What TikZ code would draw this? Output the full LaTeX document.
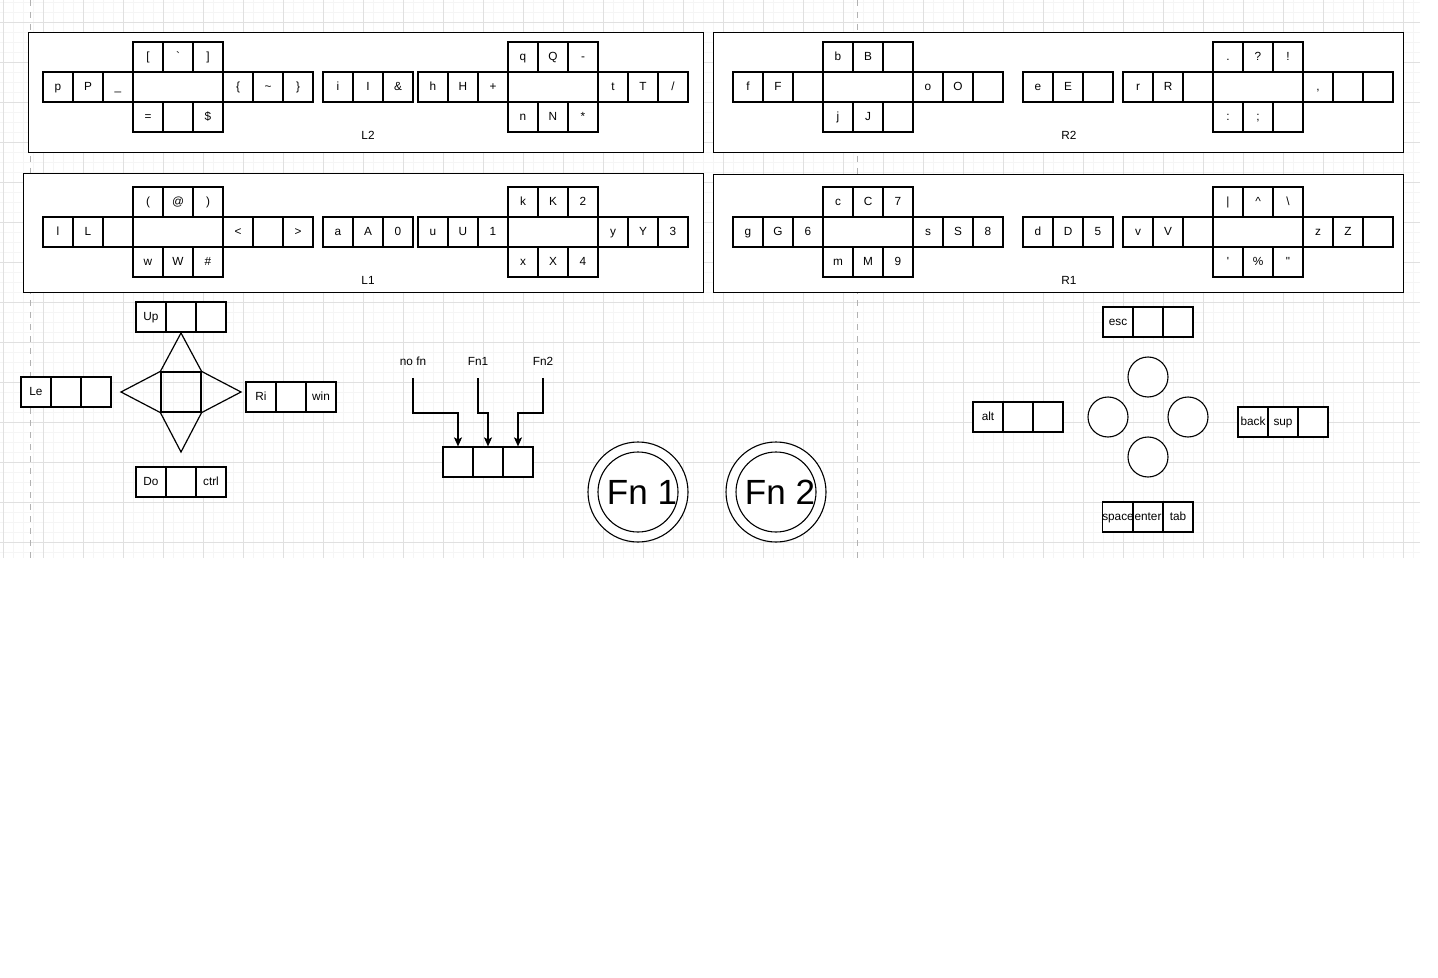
\documentclass[tikz,border=0pt]{standalone}
\usepackage{fontspec}
\newfontfamily\lab{Liberation Sans}
\usetikzlibrary{arrows.meta}
\newcommand\kdot{.}
\newcommand\kpl{(}
\newcommand\kpr{)}
\newcommand\keyrow[4]{%
  \foreach \kl [count=\ki] in {#4}{\node[cell] (#1-\ki) at ({#2+30*\ki-15},{#3}) {\kl};}}
\newcommand\crossunit[7]{%
  \keyrow{#1l}{#2}{#3}{#4}%
  \node[wide] (#1c) at ({#2+135},{#3}) {};%
  \keyrow{#1t}{#2+90}{#3-30}{#5}%
  \keyrow{#1b}{#2+90}{#3+30}{#6}%
  \keyrow{#1r}{#2+180}{#3}{#7}}
\tikzset{
  cell/.style={draw, line width=0.6pt, minimum width=15pt, minimum height=15pt,
    inner sep=0pt, fill=white, text height=4.8pt, text depth=1.4pt,
    font=\lab\fontsize{5.9}{7}\selectfont},
  wide/.style={cell, minimum width=45pt},
  panel/.style={draw, line width=0.6pt, fill=white, inner sep=0pt, anchor=north west},
  lbl/.style={font=\lab\fontsize{5.9}{7}\selectfont, inner sep=0pt, text height=4.8pt, text depth=1.4pt},
  arr/.style={line width=0.6pt, -{Stealth[length=4.5pt,width=4pt,inset=1pt]}},
  ring/.style={circle, draw, line width=0.55pt, inner sep=0pt, fill=white},
  edge/.style={line width=0.6pt},
  minorline/.style={draw=black!4, line width=0.3pt},
  majorline/.style={draw=black!12, line width=0.4pt},
  pagebreak/.style={draw=black!30, line width=0.4pt, dash pattern=on 3pt off 3pt},
}
\begin{document}
\begin{tikzpicture}[x=0.5pt,y=-0.5pt]
\useasboundingbox[fill=white] (0,0) rectangle (1438,978);
% grid
\begin{scope}
\clip (0,0) rectangle (1420,558);
\foreach \gx in {3,13,...,1413} \draw[minorline] (\gx,0) -- (\gx,558);
\foreach \gy in {2,12,...,552} \draw[minorline] (0,\gy) -- (1420,\gy);
\foreach \gx in {3,43,...,1403} \draw[majorline] (\gx,0) -- (\gx,558);
\foreach \gy in {22,62,...,542} \draw[majorline] (0,\gy) -- (1420,\gy);
\end{scope}
\draw[pagebreak] (30,0) -- (30,558);
\draw[pagebreak] (857,0) -- (857,558);

% panels
\node[panel, minimum width=337.5pt, minimum height=60pt] (pL2) at (28,32) {};
\node[panel, minimum width=345pt, minimum height=60pt] (pR2) at (713,32) {};
\node[panel, minimum width=340pt, minimum height=59.5pt] (pL1) at (23,173) {};
\node[panel, minimum width=345pt, minimum height=59pt] (pR1) at (713,174) {};
\node[lbl] (tL2) at (368,136) {L2};
\node[lbl] (tR2) at (1069,136) {R2};
\node[lbl] (tL1) at (368,281) {L1};
\node[lbl] (tR1) at (1069,281) {R1};

% L2
\crossunit{L2a}{43}{87}{p,P,\_}{[,\textasciigrave,]}{=,{},\$}{\textbraceleft,\textasciitilde,\textbraceright}
\keyrow{L2b}{323}{87}{i,I,\&}
\crossunit{L2c}{418}{87}{h,H,+}{q,Q,-}{n,N,*}{t,T,/}
% R2
\crossunit{R2a}{733}{87}{f,F,{}}{b,B,{}}{j,J,{}}{o,O,{}}
\keyrow{R2b}{1023}{87}{e,E,{}}
\crossunit{R2c}{1123}{87}{r,R,{}}{\kdot,?,!}{:,;,{}}{{,},{},{}}
% L1
\crossunit{L1a}{43}{232}{l,L,{}}{\kpl,@,\kpr}{w,W,\#}{<,{},>}
\keyrow{L1b}{323}{232}{a,A,0}
\crossunit{L1c}{418}{232}{u,U,1}{k,K,2}{x,X,4}{y,Y,3}
% R1
\crossunit{R1a}{733}{232}{g,G,6}{c,C,7}{m,M,9}{s,S,8}
\keyrow{R1b}{1023}{232}{d,D,5}
\crossunit{R1c}{1123}{232}{v,V,{}}{|,\textasciicircum,\textbackslash}{\textquotesingle,\%,\textquotedbl}{z,Z,{}}

% d-pad left
\keyrow{up}{136}{317}{Up,{},{}}
\keyrow{le}{21}{392}{Le,{},{}}
\keyrow{ri}{246}{397}{Ri,{},win}
\keyrow{do}{136}{482}{Do,{},ctrl}
\node[draw, line width=0.6pt, minimum size=20pt, inner sep=0pt] (dsq) at (181,392) {};
\coordinate (apN) at (181,333);
\coordinate (apS) at (181,452);
\coordinate (apW) at (121,392);
\coordinate (apE) at (241,392);
\draw[edge] (dsq.north west) -- (apN) -- (dsq.north east);
\draw[edge] (dsq.south west) -- (apS) -- (dsq.south east);
\draw[edge] (dsq.north west) -- (apW) -- (dsq.south west);
\draw[edge] (dsq.north east) -- (apE) -- (dsq.south east);

% fn selector
\keyrow{fs}{443}{462}{{},{},{}}
\node[lbl] (nofn) at (413,362) {no fn};
\node[lbl] (fnA) at (478,362) {Fn1};
\node[lbl] (fnB) at (543,362) {Fn2};
\coordinate (s1) at (413,378);
\coordinate (s2) at (478,378);
\coordinate (s3) at (543,378);
\coordinate (b1) at (413,413);
\coordinate (b2) at (478,413);
\coordinate (b3) at (543,413);
\draw[arr] (s1) -- (b1) -| (fs-1.north);
\draw[arr] (s2) -- (b2) -| (fs-2.north);
\draw[arr] (s3) -- (b3) -| (fs-3.north);

% Fn buttons
\node[ring, minimum size=50pt] (fn1o) at (638,492) {};
\node[ring, minimum size=40pt] (fn1i) at (638,492) {};
\node[font=\lab\fontsize{17.5}{20}\selectfont, inner sep=0pt] (fn1t) at (642,492) {Fn 1};
\node[ring, minimum size=50pt] (fn2o) at (776,492) {};
\node[ring, minimum size=40pt] (fn2i) at (776,492) {};
\node[font=\lab\fontsize{17.5}{20}\selectfont, inner sep=0pt] (fn2t) at (780,492) {Fn 2};

% right buttons
\keyrow{esc}{1103}{322}{esc,{},{}}
\keyrow{alt}{973}{417}{alt,{},{}}
\keyrow{bs}{1238}{422}{back,sup,{}}
\keyrow{spc}{1103}{517}{space,enter,tab}
\node[ring, minimum size=20pt] (bN) at (1148,377) {};
\node[ring, minimum size=20pt] (bW) at (1108,417) {};
\node[ring, minimum size=20pt] (bE) at (1188,417) {};
\node[ring, minimum size=20pt] (bS) at (1148,457) {};
\end{tikzpicture}
\end{document}
